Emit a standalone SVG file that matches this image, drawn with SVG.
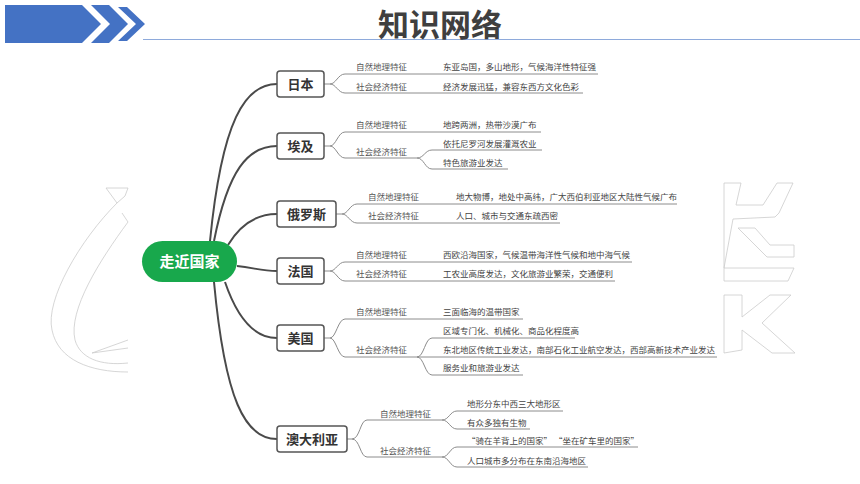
<svg xmlns="http://www.w3.org/2000/svg" width="860" height="484" viewBox="0 0 860 484">
<style>
.bg{fill:#ffffff}
.hdr{fill:#4472c4}
.wm{fill:none;stroke:#cccccc;stroke-width:0.8}
.main{fill:none;stroke:#4a4a4a;stroke-width:2}
.br{fill:none;stroke:#8c8c8c;stroke-width:1}
.box{fill:#ffffff;stroke:#555555;stroke-width:1.5}
.ctry{font-family:"Noto Sans CJK SC","Noto Sans",sans-serif;font-size:13px;font-weight:bold;fill:#333333;text-anchor:middle}
.cat{font-family:"Noto Sans CJK SC","Noto Sans",sans-serif;font-size:8.5px;fill:#555555}
.det{font-family:"Noto Sans CJK SC","Noto Sans",sans-serif;font-size:8.5px;fill:#444444}
</style>
<rect class="bg" x="0" y="0" width="860" height="484"/>
<g id="header">
<polygon class="hdr" points="5,5 82,5 101,24 82,43 5,43"/>
<polygon class="hdr" points="91,5 109,5 128,24 109,43 91,43 110,24"/>
<polygon class="hdr" points="118,7 127,7 145,24 127,41 118,41 136,24"/>
<line x1="143" y1="39.5" x2="860" y2="39.5" stroke="#8eaadb" stroke-width="1"/>
<text x="440" y="36" text-anchor="middle" font-family="'Noto Sans CJK SC','Noto Sans',sans-serif" font-size="31" font-weight="bold" fill="#3f3f3f">知识网络</text>
</g>
<g id="watermark">
<path class="wm" d="M106,188 L128,188 L125,196 L117,203 C80,240 45,300 52,330 C58,360 90,372 128,372"/>
<path class="wm" d="M117,203 L106,188 M122,213 L128,222 C100,260 68,310 75,340 C80,358 100,366 128,363"/>
<path class="wm" d="M92,353 L128,340 M92,353 L128,348"/>
<path class="wm" d="M724,183 L741,183 L736,205 L763,205 L777,183 L793,183 L779,213 L775,217 L733,219 L724,268 L794,268 L788,281 L724,281 Z"/>
<path class="wm" d="M738,228 L755,228 L770,245 L794,245 L794,257 L767,257 Z"/>
<path class="wm" d="M724,295 L742,295 L742,317 L770,295 L791,295 L762,323 L795,353 L772,353 L742,330 L742,350 L724,353 Z"/>
</g>
<g id="connectors">
<path class="main" d="M210,241 C222,120 245,84 277,84"/>
<path class="main" d="M214,241 C228,170 248,146 277,146"/>
<path class="main" d="M228,245 C240,225 255,214 277,214"/>
<path class="main" d="M237,266 C255,268 262,271 277,271"/>
<path class="main" d="M225,282 C238,320 255,338 277,338"/>
<path class="main" d="M214,282 C225,400 245,439 277,439"/>
<path class="br" d="M324,84 H330 C336,84 338,74 345,74 H598"/>
<path class="br" d="M330,84 C336,84 338,93 345,93 H583"/>
<path class="br" d="M324,146 H330 C336,146 338,132 345,132 H541"/>
<path class="br" d="M330,146 C336,146 338,158 345,158 H417 C424,158 425,150 432,150 H542"/>
<path class="br" d="M417,158 C424,158 425,169 432,169 H508"/>
<path class="br" d="M336,214 H342 C348,214 350,204 357,204 H677"/>
<path class="br" d="M342,214 C348,214 350,223 357,223 H560"/>
<path class="br" d="M324,271 H330 C336,271 338,262 345,262 H632"/>
<path class="br" d="M330,271 C336,271 338,281 345,281 H615"/>
<path class="br" d="M324,338 H330 C336,338 338,319 345,319 H523"/>
<path class="br" d="M330,338 C336,338 338,357 345,357 H717"/>
<path class="br" d="M417,357 C424,357 425,338 432,338 H575"/>
<path class="br" d="M417,357 C424,357 425,375 432,375 H523"/>
<path class="br" d="M347,439 H352 C360,439 360,420 367,420 H442 C449,420 450,411 457,411 H563"/>
<path class="br" d="M442,420 C449,420 450,429 457,429 H530"/>
<path class="br" d="M352,439 C360,439 360,457 367,457 H442 C449,457 450,447 457,447 H638"/>
<path class="br" d="M442,457 C449,457 450,467 457,467 H588"/>
</g>
<g id="root">
<rect x="142" y="241" width="95" height="41" rx="20.5" fill="#18a84c"/>
<text x="189.5" y="267" text-anchor="middle" font-family="'Noto Sans CJK SC','Noto Sans',sans-serif" font-size="15" font-weight="bold" fill="#ffffff">走近国家</text>
</g>
<g id="japan">
<rect class="box" x="277" y="71" width="47" height="26" rx="3"/>
<text class="ctry" x="300.5" y="88.5">日本</text>
<text class="cat" x="356" y="70">自然地理特征</text>
<text class="det" x="443" y="70">东亚岛国，多山地形，气候海洋性特征强</text>
<text class="cat" x="356" y="90">社会经济特征</text>
<text class="det" x="443" y="90">经济发展迅猛，兼容东西方文化色彩</text>
</g>
<g id="egypt">
<rect class="box" x="277" y="133" width="47" height="26" rx="3"/>
<text class="ctry" x="300.5" y="150.5">埃及</text>
<text class="cat" x="356" y="128">自然地理特征</text>
<text class="det" x="443" y="128">地跨两洲，热带沙漠广布</text>
<text class="cat" x="356" y="155">社会经济特征</text>
<text class="det" x="443" y="147">依托尼罗河发展灌溉农业</text>
<text class="det" x="443" y="166">特色旅游业发达</text>
</g>
<g id="russia">
<rect class="box" x="277" y="201" width="59" height="26" rx="3"/>
<text class="ctry" x="306.5" y="218.5">俄罗斯</text>
<text class="cat" x="368" y="200">自然地理特征</text>
<text class="det" x="456" y="200">地大物博，地处中高纬，广大西伯利亚地区大陆性气候广布</text>
<text class="cat" x="368" y="219">社会经济特征</text>
<text class="det" x="456" y="219">人口、城市与交通东疏西密</text>
</g>
<g id="france">
<rect class="box" x="277" y="258" width="47" height="26" rx="3"/>
<text class="ctry" x="300.5" y="275.5">法国</text>
<text class="cat" x="356" y="258">自然地理特征</text>
<text class="det" x="443" y="258">西欧沿海国家，气候温带海洋性气候和地中海气候</text>
<text class="cat" x="356" y="277">社会经济特征</text>
<text class="det" x="443" y="277">工农业高度发达，文化旅游业繁荣，交通便利</text>
</g>
<g id="usa">
<rect class="box" x="277" y="325" width="47" height="26" rx="3"/>
<text class="ctry" x="300.5" y="342.5">美国</text>
<text class="cat" x="356" y="315">自然地理特征</text>
<text class="det" x="443" y="315">三面临海的温带国家</text>
<text class="cat" x="356" y="353">社会经济特征</text>
<text class="det" x="443" y="334">区域专门化、机械化、商品化程度高</text>
<text class="det" x="443" y="353">东北地区传统工业发达，南部石化工业航空发达，西部高新技术产业发达</text>
<text class="det" x="443" y="371">服务业和旅游业发达</text>
</g>
<g id="australia">
<rect class="box" x="277" y="426" width="70" height="26" rx="3"/>
<text class="ctry" x="312" y="443.5">澳大利亚</text>
<text class="cat" x="380" y="417">自然地理特征</text>
<text class="det" x="467" y="407">地形分东中西三大地形区</text>
<text class="det" x="467" y="426">有众多独有生物</text>
<text class="cat" x="380" y="454">社会经济特征</text>
<text class="det" x="467" y="444">“骑在羊背上的国家”  “坐在矿车里的国家”</text>
<text class="det" x="467" y="464">人口城市多分布在东南沿海地区</text>
</g>
</svg>
